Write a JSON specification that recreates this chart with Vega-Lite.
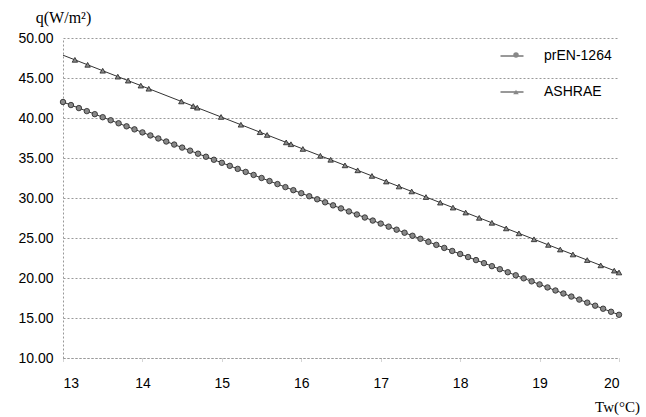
{
  "$schema": "https://vega.github.io/schema/vega-lite/v6.json",
  "width": 556,
  "height": 320,
  "autosize": {"type": "none"},
  "padding": {"left": 63, "top": 38, "right": 27, "bottom": 59},
  "background": "white",
  "config": {"view": {"stroke": null}},
  "data": {"values": [
    {"T": 13.0, "q": 42.00, "s": "prEN-1264"}, {"T": 13.1, "q": 41.62, "s": "prEN-1264"}, {"T": 13.2, "q": 41.24, "s": "prEN-1264"}, {"T": 13.3, "q": 40.86, "s": "prEN-1264"}, {"T": 13.4, "q": 40.48, "s": "prEN-1264"}, {"T": 13.5, "q": 40.10, "s": "prEN-1264"}, {"T": 13.6, "q": 39.72, "s": "prEN-1264"}, {"T": 13.7, "q": 39.34, "s": "prEN-1264"}, {"T": 13.8, "q": 38.96, "s": "prEN-1264"}, {"T": 13.9, "q": 38.58, "s": "prEN-1264"},
    {"T": 14.0, "q": 38.20, "s": "prEN-1264"}, {"T": 14.1, "q": 37.82, "s": "prEN-1264"}, {"T": 14.2, "q": 37.44, "s": "prEN-1264"}, {"T": 14.3, "q": 37.06, "s": "prEN-1264"}, {"T": 14.4, "q": 36.68, "s": "prEN-1264"}, {"T": 14.5, "q": 36.30, "s": "prEN-1264"}, {"T": 14.6, "q": 35.92, "s": "prEN-1264"}, {"T": 14.7, "q": 35.54, "s": "prEN-1264"}, {"T": 14.8, "q": 35.16, "s": "prEN-1264"}, {"T": 14.9, "q": 34.78, "s": "prEN-1264"},
    {"T": 15.0, "q": 34.40, "s": "prEN-1264"}, {"T": 15.1, "q": 34.02, "s": "prEN-1264"}, {"T": 15.2, "q": 33.64, "s": "prEN-1264"}, {"T": 15.3, "q": 33.26, "s": "prEN-1264"}, {"T": 15.4, "q": 32.88, "s": "prEN-1264"}, {"T": 15.5, "q": 32.50, "s": "prEN-1264"}, {"T": 15.6, "q": 32.12, "s": "prEN-1264"}, {"T": 15.7, "q": 31.74, "s": "prEN-1264"}, {"T": 15.8, "q": 31.36, "s": "prEN-1264"}, {"T": 15.9, "q": 30.98, "s": "prEN-1264"},
    {"T": 16.0, "q": 30.60, "s": "prEN-1264"}, {"T": 16.1, "q": 30.22, "s": "prEN-1264"}, {"T": 16.2, "q": 29.84, "s": "prEN-1264"}, {"T": 16.3, "q": 29.46, "s": "prEN-1264"}, {"T": 16.4, "q": 29.08, "s": "prEN-1264"}, {"T": 16.5, "q": 28.70, "s": "prEN-1264"}, {"T": 16.6, "q": 28.32, "s": "prEN-1264"}, {"T": 16.7, "q": 27.94, "s": "prEN-1264"}, {"T": 16.8, "q": 27.56, "s": "prEN-1264"}, {"T": 16.9, "q": 27.18, "s": "prEN-1264"},
    {"T": 17.0, "q": 26.80, "s": "prEN-1264"}, {"T": 17.1, "q": 26.42, "s": "prEN-1264"}, {"T": 17.2, "q": 26.04, "s": "prEN-1264"}, {"T": 17.3, "q": 25.66, "s": "prEN-1264"}, {"T": 17.4, "q": 25.28, "s": "prEN-1264"}, {"T": 17.5, "q": 24.90, "s": "prEN-1264"}, {"T": 17.6, "q": 24.52, "s": "prEN-1264"}, {"T": 17.7, "q": 24.14, "s": "prEN-1264"}, {"T": 17.8, "q": 23.76, "s": "prEN-1264"}, {"T": 17.9, "q": 23.38, "s": "prEN-1264"},
    {"T": 18.0, "q": 23.00, "s": "prEN-1264"}, {"T": 18.1, "q": 22.62, "s": "prEN-1264"}, {"T": 18.2, "q": 22.24, "s": "prEN-1264"}, {"T": 18.3, "q": 21.86, "s": "prEN-1264"}, {"T": 18.4, "q": 21.48, "s": "prEN-1264"}, {"T": 18.5, "q": 21.10, "s": "prEN-1264"}, {"T": 18.6, "q": 20.72, "s": "prEN-1264"}, {"T": 18.7, "q": 20.34, "s": "prEN-1264"}, {"T": 18.8, "q": 19.96, "s": "prEN-1264"}, {"T": 18.9, "q": 19.58, "s": "prEN-1264"},
    {"T": 19.0, "q": 19.20, "s": "prEN-1264"}, {"T": 19.1, "q": 18.82, "s": "prEN-1264"}, {"T": 19.2, "q": 18.44, "s": "prEN-1264"}, {"T": 19.3, "q": 18.06, "s": "prEN-1264"}, {"T": 19.4, "q": 17.68, "s": "prEN-1264"}, {"T": 19.5, "q": 17.30, "s": "prEN-1264"}, {"T": 19.6, "q": 16.92, "s": "prEN-1264"}, {"T": 19.7, "q": 16.54, "s": "prEN-1264"}, {"T": 19.8, "q": 16.16, "s": "prEN-1264"}, {"T": 19.9, "q": 15.78, "s": "prEN-1264"},
    {"T": 20.0, "q": 15.40, "s": "prEN-1264"},
    {"T": 13.00, "q": 47.85, "s": "ASHRAE"}, {"T": 13.15, "q": 47.27, "s": "ASHRAE"}, {"T": 13.31, "q": 46.65, "s": "ASHRAE"}, {"T": 13.50, "q": 45.91, "s": "ASHRAE"}, {"T": 13.69, "q": 45.17, "s": "ASHRAE"}, {"T": 13.82, "q": 44.67, "s": "ASHRAE"}, {"T": 13.98, "q": 44.05, "s": "ASHRAE"}, {"T": 14.08, "q": 43.66, "s": "ASHRAE"},
    {"T": 14.49, "q": 42.07, "s": "ASHRAE"}, {"T": 14.64, "q": 41.49, "s": "ASHRAE"}, {"T": 14.69, "q": 41.29, "s": "ASHRAE"}, {"T": 14.99, "q": 40.13, "s": "ASHRAE"}, {"T": 15.24, "q": 39.16, "s": "ASHRAE"}, {"T": 15.48, "q": 38.23, "s": "ASHRAE"}, {"T": 15.57, "q": 37.88, "s": "ASHRAE"}, {"T": 15.81, "q": 36.95, "s": "ASHRAE"},
    {"T": 15.87, "q": 36.72, "s": "ASHRAE"}, {"T": 16.02, "q": 36.13, "s": "ASHRAE"}, {"T": 16.24, "q": 35.28, "s": "ASHRAE"}, {"T": 16.37, "q": 34.78, "s": "ASHRAE"}, {"T": 16.55, "q": 34.08, "s": "ASHRAE"}, {"T": 16.71, "q": 33.46, "s": "ASHRAE"}, {"T": 16.89, "q": 32.76, "s": "ASHRAE"}, {"T": 17.07, "q": 32.06, "s": "ASHRAE"},
    {"T": 17.23, "q": 31.44, "s": "ASHRAE"}, {"T": 17.39, "q": 30.82, "s": "ASHRAE"}, {"T": 17.57, "q": 30.12, "s": "ASHRAE"}, {"T": 17.75, "q": 29.42, "s": "ASHRAE"}, {"T": 17.91, "q": 28.80, "s": "ASHRAE"}, {"T": 18.07, "q": 28.18, "s": "ASHRAE"}, {"T": 18.24, "q": 27.52, "s": "ASHRAE"}, {"T": 18.40, "q": 26.90, "s": "ASHRAE"},
    {"T": 18.58, "q": 26.20, "s": "ASHRAE"}, {"T": 18.74, "q": 25.58, "s": "ASHRAE"}, {"T": 18.93, "q": 24.84, "s": "ASHRAE"}, {"T": 19.11, "q": 24.14, "s": "ASHRAE"}, {"T": 19.26, "q": 23.56, "s": "ASHRAE"}, {"T": 19.42, "q": 22.94, "s": "ASHRAE"}, {"T": 19.60, "q": 22.24, "s": "ASHRAE"}, {"T": 19.77, "q": 21.58, "s": "ASHRAE"},
    {"T": 19.94, "q": 20.92, "s": "ASHRAE"}, {"T": 20.00, "q": 20.69, "s": "ASHRAE"}
  ]},
  "encoding": {
    "x": {
      "field": "T", "type": "quantitative",
      "scale": {"domain": [13, 20], "nice": false, "zero": false},
      "axis": {
        "title": "Tw(°C)", "titleX": 554, "titleY": 48, "titleAlign": "center", "titleBaseline": "middle",
        "titleFont": "Liberation Serif", "titleFontSize": 15, "titleFontWeight": "normal", "titleColor": "#000",
        "values": [13, 14, 15, 16, 17, 18, 19, 20], "format": "d",
        "labelFont": "Liberation Sans", "labelFontSize": 14, "labelColor": "#000", "labelPadding": 14,
        "grid": false, "domainColor": "#999", "domainDash": [2, 2], "tickColor": "#aaa", "tickSize": 4, "tickDash": [1, 1]
      }
    },
    "y": {
      "field": "q", "type": "quantitative",
      "scale": {"domain": [10, 50], "nice": false, "zero": false},
      "axis": {
        "title": "q(W/m²)", "titleAngle": 0, "titleX": 0, "titleY": -21, "titleAlign": "center", "titleBaseline": "middle",
        "titleFont": "Liberation Serif", "titleFontSize": 16, "titleFontWeight": "normal", "titleColor": "#000",
        "values": [10, 15, 20, 25, 30, 35, 40, 45, 50], "format": ".2f",
        "labelFont": "Liberation Sans", "labelFontSize": 14, "labelColor": "#000", "labelPadding": 10,
        "ticks": false, "grid": true, "gridColor": "#999", "gridDash": [2, 2], "gridWidth": 1,
        "domainColor": "#999", "domainDash": [2, 2]
      }
    }
  },
  "layer": [
    {
      "mark": {"type": "line", "strokeWidth": 1},
      "encoding": {
        "color": {
          "field": "s", "type": "nominal",
          "scale": {"domain": ["prEN-1264", "ASHRAE"], "range": ["#333333", "#333333"]},
          "legend": {
            "title": null, "orient": "none", "legendX": 437, "legendY": 6, "padding": 0,
            "symbolType": "stroke", "symbolSize": 529, "symbolStrokeWidth": 1, "symbolStrokeColor": "#333",
            "labelFont": "Liberation Sans", "labelFontSize": 14, "labelColor": "#000", "labelOffset": 20,
            "rowPadding": 17
          }
        }
      }
    },
    {
      "transform": [
        {"filter": "datum.s == 'prEN-1264' || datum.T > 13.05"},
        {"calculate": "datum.s", "as": "series"}
      ],
      "mark": {"type": "point", "filled": true, "fill": "#888", "stroke": "#222", "strokeWidth": 0.8, "size": 30, "opacity": 1},
      "encoding": {
        "shape": {
          "field": "series", "type": "nominal", "sort": "descending",
          "scale": {"range": ["circle", "triangle-up"]},
          "legend": {
            "title": null, "orient": "none", "legendX": 446, "legendY": 10, "padding": 0,
            "symbolSize": 30, "symbolFillColor": "#888", "symbolStrokeColor": "#222", "symbolStrokeWidth": 0.8,
            "labelFont": "Liberation Sans", "labelFontSize": 14, "labelExpr": "''", "rowPadding": 23
          }
        }
      }
    }
  ]
}
